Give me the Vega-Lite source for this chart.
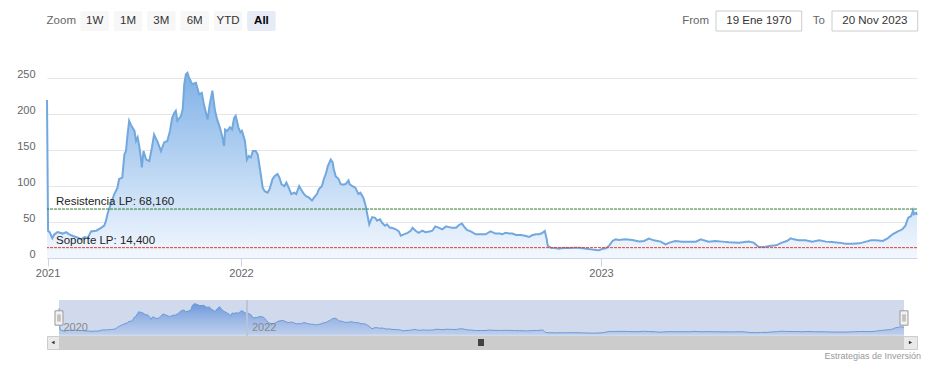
{
  "$schema": "https://vega.github.io/schema/vega-lite/v6.json",
  "background": "white",
  "padding": {"left": 16, "top": 10, "right": 10, "bottom": 6},
  "title": {"text": "Estrategias de Inversión", "orient": "bottom", "anchor": "end", "fontSize": 9, "color": "#999999", "fontWeight": "normal", "offset": 2},
  "datasets": {
    "series": [
      {"date": "2020-12-31", "close": 220},
      {"date": "2021-01-02", "close": 38},
      {"date": "2021-01-05", "close": 36},
      {"date": "2021-01-10", "close": 27.6},
      {"date": "2021-01-14", "close": 33},
      {"date": "2021-01-20", "close": 36},
      {"date": "2021-01-30", "close": 34},
      {"date": "2021-02-05", "close": 36},
      {"date": "2021-02-11", "close": 33},
      {"date": "2021-02-18", "close": 30.6},
      {"date": "2021-02-27", "close": 28.3},
      {"date": "2021-03-05", "close": 26},
      {"date": "2021-03-12", "close": 29},
      {"date": "2021-03-18", "close": 28},
      {"date": "2021-03-24", "close": 37},
      {"date": "2021-04-03", "close": 38},
      {"date": "2021-04-12", "close": 42},
      {"date": "2021-04-18", "close": 45},
      {"date": "2021-04-21", "close": 51},
      {"date": "2021-04-24", "close": 61},
      {"date": "2021-05-01", "close": 77},
      {"date": "2021-05-07", "close": 89},
      {"date": "2021-05-13", "close": 98},
      {"date": "2021-05-16", "close": 110},
      {"date": "2021-05-22", "close": 112},
      {"date": "2021-05-26", "close": 144},
      {"date": "2021-05-29", "close": 149},
      {"date": "2021-06-01", "close": 172},
      {"date": "2021-06-04", "close": 191},
      {"date": "2021-06-07", "close": 186},
      {"date": "2021-06-14", "close": 177},
      {"date": "2021-06-17", "close": 163},
      {"date": "2021-06-20", "close": 168},
      {"date": "2021-06-23", "close": 156},
      {"date": "2021-06-26", "close": 140},
      {"date": "2021-06-28", "close": 126},
      {"date": "2021-07-01", "close": 149},
      {"date": "2021-07-06", "close": 137},
      {"date": "2021-07-12", "close": 135},
      {"date": "2021-07-17", "close": 154},
      {"date": "2021-07-21", "close": 172},
      {"date": "2021-07-28", "close": 161},
      {"date": "2021-08-03", "close": 149},
      {"date": "2021-08-09", "close": 161},
      {"date": "2021-08-15", "close": 163},
      {"date": "2021-08-20", "close": 177},
      {"date": "2021-08-24", "close": 195},
      {"date": "2021-08-28", "close": 202},
      {"date": "2021-08-31", "close": 205},
      {"date": "2021-09-03", "close": 191},
      {"date": "2021-09-10", "close": 198},
      {"date": "2021-09-13", "close": 207},
      {"date": "2021-09-16", "close": 242},
      {"date": "2021-09-19", "close": 256},
      {"date": "2021-09-22", "close": 258},
      {"date": "2021-09-25", "close": 251},
      {"date": "2021-10-01", "close": 242},
      {"date": "2021-10-08", "close": 244},
      {"date": "2021-10-14", "close": 228},
      {"date": "2021-10-19", "close": 230},
      {"date": "2021-10-23", "close": 214},
      {"date": "2021-10-30", "close": 193},
      {"date": "2021-11-03", "close": 214},
      {"date": "2021-11-08", "close": 233},
      {"date": "2021-11-13", "close": 205},
      {"date": "2021-11-17", "close": 193},
      {"date": "2021-11-22", "close": 182},
      {"date": "2021-11-27", "close": 168},
      {"date": "2021-11-30", "close": 156},
      {"date": "2021-12-02", "close": 179},
      {"date": "2021-12-06", "close": 177},
      {"date": "2021-12-11", "close": 182},
      {"date": "2021-12-15", "close": 179},
      {"date": "2021-12-19", "close": 195},
      {"date": "2021-12-22", "close": 198},
      {"date": "2021-12-27", "close": 182},
      {"date": "2021-12-31", "close": 175},
      {"date": "2022-01-02", "close": 177},
      {"date": "2022-01-05", "close": 163},
      {"date": "2022-01-07", "close": 137},
      {"date": "2022-01-09", "close": 142},
      {"date": "2022-01-11", "close": 140},
      {"date": "2022-01-13", "close": 149},
      {"date": "2022-01-16", "close": 149},
      {"date": "2022-01-18", "close": 144},
      {"date": "2022-01-19", "close": 135},
      {"date": "2022-01-21", "close": 117},
      {"date": "2022-01-23", "close": 98},
      {"date": "2022-01-25", "close": 93},
      {"date": "2022-01-28", "close": 91},
      {"date": "2022-01-30", "close": 96},
      {"date": "2022-02-02", "close": 110},
      {"date": "2022-02-04", "close": 114},
      {"date": "2022-02-07", "close": 117},
      {"date": "2022-02-09", "close": 112},
      {"date": "2022-02-11", "close": 103},
      {"date": "2022-02-14", "close": 100},
      {"date": "2022-02-16", "close": 105},
      {"date": "2022-02-19", "close": 96},
      {"date": "2022-02-21", "close": 89},
      {"date": "2022-02-24", "close": 91},
      {"date": "2022-02-26", "close": 89},
      {"date": "2022-03-01", "close": 100},
      {"date": "2022-03-04", "close": 93},
      {"date": "2022-03-06", "close": 89},
      {"date": "2022-03-08", "close": 86},
      {"date": "2022-03-11", "close": 84},
      {"date": "2022-03-14", "close": 80},
      {"date": "2022-03-16", "close": 84},
      {"date": "2022-03-19", "close": 89},
      {"date": "2022-03-21", "close": 96},
      {"date": "2022-03-24", "close": 100},
      {"date": "2022-03-26", "close": 110},
      {"date": "2022-03-28", "close": 117},
      {"date": "2022-03-30", "close": 128},
      {"date": "2022-04-02", "close": 137},
      {"date": "2022-04-04", "close": 133},
      {"date": "2022-04-05", "close": 124},
      {"date": "2022-04-07", "close": 114},
      {"date": "2022-04-10", "close": 110},
      {"date": "2022-04-12", "close": 103},
      {"date": "2022-04-14", "close": 102},
      {"date": "2022-04-17", "close": 103},
      {"date": "2022-04-20", "close": 108},
      {"date": "2022-04-21", "close": 103},
      {"date": "2022-04-24", "close": 100},
      {"date": "2022-04-27", "close": 98},
      {"date": "2022-04-30", "close": 89},
      {"date": "2022-05-02", "close": 91},
      {"date": "2022-05-05", "close": 84},
      {"date": "2022-05-07", "close": 75},
      {"date": "2022-05-09", "close": 61},
      {"date": "2022-05-11", "close": 47},
      {"date": "2022-05-14", "close": 57},
      {"date": "2022-05-17", "close": 56},
      {"date": "2022-05-19", "close": 52},
      {"date": "2022-05-22", "close": 54},
      {"date": "2022-05-24", "close": 49},
      {"date": "2022-05-27", "close": 45},
      {"date": "2022-05-29", "close": 47},
      {"date": "2022-06-01", "close": 42},
      {"date": "2022-06-03", "close": 42},
      {"date": "2022-06-07", "close": 40},
      {"date": "2022-06-10", "close": 37},
      {"date": "2022-06-12", "close": 31},
      {"date": "2022-06-15", "close": 33},
      {"date": "2022-06-19", "close": 35},
      {"date": "2022-06-22", "close": 38},
      {"date": "2022-06-24", "close": 42},
      {"date": "2022-06-27", "close": 38},
      {"date": "2022-06-30", "close": 35},
      {"date": "2022-07-04", "close": 38},
      {"date": "2022-07-07", "close": 36},
      {"date": "2022-07-11", "close": 37},
      {"date": "2022-07-14", "close": 38},
      {"date": "2022-07-17", "close": 44},
      {"date": "2022-07-21", "close": 42},
      {"date": "2022-07-24", "close": 40},
      {"date": "2022-07-28", "close": 44},
      {"date": "2022-07-31", "close": 43},
      {"date": "2022-08-03", "close": 42},
      {"date": "2022-08-07", "close": 42},
      {"date": "2022-08-10", "close": 46},
      {"date": "2022-08-13", "close": 48},
      {"date": "2022-08-15", "close": 44},
      {"date": "2022-08-18", "close": 39},
      {"date": "2022-08-22", "close": 37},
      {"date": "2022-08-27", "close": 33},
      {"date": "2022-09-01", "close": 33},
      {"date": "2022-09-06", "close": 33},
      {"date": "2022-09-11", "close": 37},
      {"date": "2022-09-16", "close": 34},
      {"date": "2022-09-20", "close": 34},
      {"date": "2022-09-23", "close": 33},
      {"date": "2022-09-26", "close": 35},
      {"date": "2022-09-30", "close": 34},
      {"date": "2022-10-03", "close": 34},
      {"date": "2022-10-07", "close": 32},
      {"date": "2022-10-12", "close": 32},
      {"date": "2022-10-17", "close": 30.6},
      {"date": "2022-10-20", "close": 29.2},
      {"date": "2022-10-23", "close": 31.6},
      {"date": "2022-10-27", "close": 33},
      {"date": "2022-10-30", "close": 33},
      {"date": "2022-11-02", "close": 34.4},
      {"date": "2022-11-05", "close": 37.6},
      {"date": "2022-11-07", "close": 26},
      {"date": "2022-11-08", "close": 17},
      {"date": "2022-11-11", "close": 14.4},
      {"date": "2022-11-16", "close": 14},
      {"date": "2022-11-19", "close": 13},
      {"date": "2022-11-25", "close": 14.4},
      {"date": "2022-11-30", "close": 14},
      {"date": "2022-12-05", "close": 14.4},
      {"date": "2022-12-10", "close": 14.4},
      {"date": "2022-12-17", "close": 13},
      {"date": "2022-12-22", "close": 12},
      {"date": "2022-12-27", "close": 11},
      {"date": "2022-12-30", "close": 10.7},
      {"date": "2023-01-02", "close": 12.5},
      {"date": "2023-01-06", "close": 13.5},
      {"date": "2023-01-09", "close": 16.7},
      {"date": "2023-01-13", "close": 24},
      {"date": "2023-01-16", "close": 26},
      {"date": "2023-01-19", "close": 25},
      {"date": "2023-01-26", "close": 26},
      {"date": "2023-02-02", "close": 25},
      {"date": "2023-02-09", "close": 23},
      {"date": "2023-02-14", "close": 23.7},
      {"date": "2023-02-19", "close": 27},
      {"date": "2023-02-24", "close": 24.6},
      {"date": "2023-03-03", "close": 22.8},
      {"date": "2023-03-08", "close": 19},
      {"date": "2023-03-12", "close": 21.4},
      {"date": "2023-03-18", "close": 23.7},
      {"date": "2023-03-25", "close": 22.8},
      {"date": "2023-04-01", "close": 22.8},
      {"date": "2023-04-08", "close": 22.8},
      {"date": "2023-04-13", "close": 26},
      {"date": "2023-04-16", "close": 24.6},
      {"date": "2023-04-21", "close": 22.8},
      {"date": "2023-04-28", "close": 23.7},
      {"date": "2023-05-05", "close": 22.8},
      {"date": "2023-05-12", "close": 22},
      {"date": "2023-05-22", "close": 21.4},
      {"date": "2023-06-01", "close": 22.8},
      {"date": "2023-06-06", "close": 21.4},
      {"date": "2023-06-11", "close": 15.8},
      {"date": "2023-06-17", "close": 15.3},
      {"date": "2023-06-22", "close": 16.7},
      {"date": "2023-06-29", "close": 17.6},
      {"date": "2023-07-05", "close": 21.4},
      {"date": "2023-07-10", "close": 23.7},
      {"date": "2023-07-14", "close": 27.4},
      {"date": "2023-07-17", "close": 26},
      {"date": "2023-07-22", "close": 24.6},
      {"date": "2023-07-29", "close": 24.6},
      {"date": "2023-08-05", "close": 22.8},
      {"date": "2023-08-12", "close": 24.6},
      {"date": "2023-08-19", "close": 22.8},
      {"date": "2023-08-25", "close": 22.3},
      {"date": "2023-09-01", "close": 21.4},
      {"date": "2023-09-08", "close": 20},
      {"date": "2023-09-15", "close": 20},
      {"date": "2023-09-22", "close": 20.4},
      {"date": "2023-09-29", "close": 22.8},
      {"date": "2023-10-04", "close": 24.6},
      {"date": "2023-10-09", "close": 24.6},
      {"date": "2023-10-16", "close": 23.7},
      {"date": "2023-10-21", "close": 27.4},
      {"date": "2023-10-26", "close": 33},
      {"date": "2023-10-31", "close": 36.7},
      {"date": "2023-11-05", "close": 40},
      {"date": "2023-11-08", "close": 44.6},
      {"date": "2023-11-11", "close": 56},
      {"date": "2023-11-14", "close": 58.5},
      {"date": "2023-11-16", "close": 66.4},
      {"date": "2023-11-17", "close": 61},
      {"date": "2023-11-19", "close": 63},
      {"date": "2023-11-20", "close": 60}
    ]
  },
  "spacing": 0,
  "bounds": "flush",
  "vconcat": [
    {
      "width": 870,
      "height": 47,
      "resolve": {"scale": {"x": "independent"}},
      "layer": [
        {
          "data": {"values": [{"b": "1W"}, {"b": "1M"}, {"b": "3M"}, {"b": "6M"}, {"b": "YTD"}, {"b": "All", "selected": true}]},
          "mark": {"type": "rect", "cornerRadius": 2},
          "encoding": {
            "x": {"field": "b", "type": "nominal", "scale": {"type": "band", "domain": ["Zoom", "1W", "1M", "3M", "6M", "YTD", "All"], "range": [0, 228.7], "paddingInner": 0.144, "paddingOuter": 0}, "axis": null},
            "y": {"datum": "selector", "type": "nominal", "scale": {"type": "band", "range": [0, 20], "paddingInner": 0, "paddingOuter": 0}, "axis": null},
            "color": {"condition": {"test": "datum.selected", "value": "#e6ebf5"}, "value": "#f7f7f7"}
          }
        },
        {
          "data": {"values": [{"b": "Zoom"}]},
          "mark": {"type": "text", "fontSize": 11.5, "color": "#666666"},
          "encoding": {
            "x": {"field": "b", "type": "nominal", "scale": {"type": "band", "domain": ["Zoom", "1W", "1M", "3M", "6M", "YTD", "All"], "range": [0, 228.7], "paddingInner": 0.144, "paddingOuter": 0}, "axis": null},
            "y": {"datum": "selector", "type": "nominal", "scale": {"type": "band", "range": [0, 20], "paddingInner": 0, "paddingOuter": 0}, "axis": null},
            "text": {"field": "b"}
          }
        },
        {
          "data": {"values": [{"b": "1W"}, {"b": "1M"}, {"b": "3M"}, {"b": "6M"}, {"b": "YTD"}]},
          "mark": {"type": "text", "fontSize": 11.5, "color": "#333333"},
          "encoding": {
            "x": {"field": "b", "type": "nominal", "scale": {"type": "band", "domain": ["Zoom", "1W", "1M", "3M", "6M", "YTD", "All"], "range": [0, 228.7], "paddingInner": 0.144, "paddingOuter": 0}, "axis": null},
            "y": {"datum": "selector", "type": "nominal", "scale": {"type": "band", "range": [0, 20], "paddingInner": 0, "paddingOuter": 0}, "axis": null},
            "text": {"field": "b"}
          }
        },
        {
          "data": {"values": [{"b": "All"}]},
          "mark": {"type": "text", "fontSize": 11.5, "color": "#000000", "fontWeight": "bold"},
          "encoding": {
            "x": {"field": "b", "type": "nominal", "scale": {"type": "band", "domain": ["Zoom", "1W", "1M", "3M", "6M", "YTD", "All"], "range": [0, 228.7], "paddingInner": 0.144, "paddingOuter": 0}, "axis": null},
            "y": {"datum": "selector", "type": "nominal", "scale": {"type": "band", "range": [0, 20], "paddingInner": 0, "paddingOuter": 0}, "axis": null},
            "text": {"field": "b"}
          }
        },
        {
          "data": {"values": [{"label": "From", "value": "19 Ene 1970"}, {"label": "To", "value": "20 Nov 2023"}]},
          "mark": {"type": "rect", "fill": "#ffffff", "stroke": "#cccccc", "strokeWidth": 1},
          "encoding": {
            "x": {"field": "value", "type": "nominal", "scale": {"type": "band", "domain": ["19 Ene 1970", "20 Nov 2023"], "range": [669, 870.7], "paddingInner": 0.261, "paddingOuter": 0}, "axis": null},
            "y": {"datum": "selector", "type": "nominal", "scale": {"type": "band", "range": [0, 20], "paddingInner": 0, "paddingOuter": 0}, "axis": null}
          }
        },
        {
          "data": {"values": [{"label": "From", "value": "19 Ene 1970"}, {"label": "To", "value": "20 Nov 2023"}]},
          "mark": {"type": "text", "fontSize": 11.5, "color": "#333333"},
          "encoding": {
            "x": {"field": "value", "type": "nominal", "scale": {"type": "band", "domain": ["19 Ene 1970", "20 Nov 2023"], "range": [669, 870.7], "paddingInner": 0.261, "paddingOuter": 0}, "axis": null},
            "y": {"datum": "selector", "type": "nominal", "scale": {"type": "band", "range": [0, 20], "paddingInner": 0, "paddingOuter": 0}, "axis": null},
            "text": {"field": "value"}
          }
        },
        {
          "data": {"values": [{"label": "From", "value": "19 Ene 1970"}, {"label": "To", "value": "20 Nov 2023"}]},
          "mark": {"type": "text", "fontSize": 11.5, "color": "#666666", "align": "right", "dx": -7},
          "encoding": {
            "x": {"field": "value", "type": "nominal", "bandPosition": 0, "scale": {"type": "band", "domain": ["19 Ene 1970", "20 Nov 2023"], "range": [669, 870.7], "paddingInner": 0.261, "paddingOuter": 0}, "axis": null},
            "y": {"datum": "selector", "type": "nominal", "scale": {"type": "band", "range": [0, 20], "paddingInner": 0, "paddingOuter": 0}, "axis": null},
            "text": {"field": "label"}
          }
        }
      ]
    },
    {
      "width": 870,
      "height": 200,
      "layer": [
        {
          "data": {"name": "series", "format": {"parse": {"date": "date"}}},
          "mark": {
            "type": "area",
            "interpolate": "linear",
            "opacity": 1,
            "color": {"x1": 0, "y1": 0, "x2": 0, "y2": 1, "gradient": "linear", "stops": [{"offset": 0, "color": "#7fb1e7"}, {"offset": 1, "color": "#f3f8fe"}]},
            "line": {"color": "#72a8de", "strokeWidth": 2}
          },
          "encoding": {
            "x": {
              "field": "date", "type": "quantitative",
              "scale": {"type": "linear", "zero": false, "nice": false, "domain": [1609372800000, 1640995200000, 1672531200000, 1700438400000], "range": [0, 194, 554, 870]},
              "axis": {"values": [1609459200000, 1640995200000, 1672531200000], "labelExpr": "utcFormat(datum.value, '%Y')", "grid": false, "domainColor": "#ccd6eb", "domainWidth": 1, "tickColor": "#ccd6eb", "tickSize": 8, "labelColor": "#666666", "labelFontSize": 11, "labelPadding": 1, "labelFlush": false, "labelOverlap": false, "title": null}
            },
            "y": {
              "field": "close", "type": "quantitative",
              "scale": {"domain": [0, 278.5], "nice": false, "zero": false},
              "axis": {"values": [0, 50, 100, 150, 200, 250], "grid": true, "gridColor": "#e6e6e6", "gridWidth": 1, "domain": false, "ticks": false, "labelColor": "#666666", "labelFontSize": 11, "labelPadding": 12, "labelBaseline": "alphabetic", "labelOffset": -1, "labelOverlap": false, "title": null}
            }
          }
        },
        {
          "data": {"values": [{"label": "Resistencia LP: 68,160", "level": 68.16, "kind": "res"}, {"label": "Soporte LP: 14,400", "level": 14.4, "kind": "sup"}]},
          "mark": {"type": "rule", "strokeDash": [3, 1], "strokeWidth": 1},
          "encoding": {
            "y": {"field": "level", "type": "quantitative", "scale": {"domain": [0, 278.5], "nice": false, "zero": false},
              "axis": {"values": [0, 50, 100, 150, 200, 250], "grid": true, "gridColor": "#e6e6e6", "gridWidth": 1, "domain": false, "ticks": false, "labelColor": "#666666", "labelFontSize": 11, "labelPadding": 12, "labelBaseline": "alphabetic", "labelOffset": -1, "labelOverlap": false, "title": null}},
            "color": {"field": "kind", "type": "nominal", "scale": {"domain": ["res", "sup"], "range": ["#2e7d32", "#e53935"]}, "legend": null}
          }
        },
        {
          "data": {"values": [{"label": "Resistencia LP: 68,160", "level": 68.16, "kind": "res"}, {"label": "Soporte LP: 14,400", "level": 14.4, "kind": "sup"}]},
          "mark": {"type": "text", "align": "left", "baseline": "alphabetic", "dx": 9, "dy": -4, "fontSize": 11.5, "color": "#222222"},
          "encoding": {
            "x": {"datum": 1609372800000, "type": "quantitative", "scale": {"type": "linear", "zero": false, "nice": false, "domain": [1609372800000, 1640995200000, 1672531200000, 1700438400000], "range": [0, 194, 554, 870]},
              "axis": {"values": [1609459200000, 1640995200000, 1672531200000], "labelExpr": "utcFormat(datum.value, '%Y')", "grid": false, "domainColor": "#ccd6eb", "domainWidth": 1, "tickColor": "#ccd6eb", "tickSize": 8, "labelColor": "#666666", "labelFontSize": 11, "labelPadding": 1, "labelFlush": false, "labelOverlap": false, "title": null}},
            "y": {"field": "level", "type": "quantitative", "scale": {"domain": [0, 278.5], "nice": false, "zero": false},
              "axis": {"values": [0, 50, 100, 150, 200, 250], "grid": true, "gridColor": "#e6e6e6", "gridWidth": 1, "domain": false, "ticks": false, "labelColor": "#666666", "labelFontSize": 11, "labelPadding": 12, "labelBaseline": "alphabetic", "labelOffset": -1, "labelOverlap": false, "title": null}},
            "text": {"field": "label"}
          }
        }
      ]
    },
    {
      "width": 870,
      "height": 78,
      "data": {"name": "series", "format": {"parse": {"date": "date"}}},
      "layer": [
        {
          "mark": {"type": "rect", "fill": "#d1daed"},
          "encoding": {
            "x": {"aggregate": "min", "field": "date", "type": "quantitative",
              "scale": {"type": "linear", "zero": false, "nice": false, "domain": [1609372800000, 1640995200000, 1672531200000, 1700438400000], "range": [12, 200.4, 550.1, 857]},
              "axis": {"values": [1609372800000, 1640995200000], "labelExpr": "utcFormat(datum.value, '%Y')", "grid": false, "domain": false, "ticks": false, "labelAlign": "left", "labelBaseline": "alphabetic", "labelPadding": -6, "labelOffset": 4, "labelColor": "#888888", "labelFontSize": 11, "labelFlush": false, "labelOverlap": false, "title": null, "zindex": 1}
            },
            "x2": {"aggregate": "max", "field": "date"},
            "y": {"datum": 289, "type": "quantitative", "scale": {"domain": [-13, 289], "range": [78, 42], "nice": false, "zero": false}, "axis": null},
            "y2": {"datum": -13}
          }
        },
        {
          "mark": {
            "type": "area",
            "opacity": 1,
            "color": {"x1": 0, "y1": 0, "x2": 0, "y2": 1, "gradient": "linear", "stops": [{"offset": 0, "color": "rgba(90,140,215,0.85)"}, {"offset": 1, "color": "rgba(124,165,230,0.25)"}]},
            "line": {"color": "#6b9bd6", "strokeWidth": 1}
          },
          "encoding": {
            "x": {"field": "date", "type": "quantitative", "scale": {"type": "linear", "zero": false, "nice": false, "domain": [1609372800000, 1640995200000, 1672531200000, 1700438400000], "range": [12, 200.4, 550.1, 857]}},
            "y": {"field": "close", "type": "quantitative", "scale": {"domain": [-13, 289], "range": [78, 42], "nice": false, "zero": false}, "axis": null}
          }
        },
        {
          "mark": {"type": "rule", "color": "#bcc3d3", "strokeWidth": 1},
          "encoding": {
            "x": {"datum": 1640995200000, "type": "quantitative", "scale": {"type": "linear", "zero": false, "nice": false, "domain": [1609372800000, 1640995200000, 1672531200000, 1700438400000], "range": [12, 200.4, 550.1, 857]}},
            "y": {"datum": 289, "type": "quantitative", "scale": {"domain": [-13, 289], "range": [78, 42], "nice": false, "zero": false}, "axis": null},
            "y2": {"datum": -13}
          }
        },
        {
          "mark": {"type": "point", "shape": "M-0.5,-0.9H0.5V0.9H-0.5Z M-0.12,-0.45V0.45 M0.12,-0.45V0.45", "filled": true, "fill": "#f2f2f2", "stroke": "#999999", "strokeWidth": 1, "size": 256, "opacity": 1},
          "encoding": {
            "x": {"aggregate": "min", "field": "date", "type": "quantitative", "scale": {"type": "linear", "zero": false, "nice": false, "domain": [1609372800000, 1640995200000, 1672531200000, 1700438400000], "range": [12, 200.4, 550.1, 857]}},
            "y": {"datum": 138, "type": "quantitative", "scale": {"domain": [-13, 289], "range": [78, 42], "nice": false, "zero": false}, "axis": null}
          }
        },
        {
          "mark": {"type": "point", "shape": "M-0.5,-0.9H0.5V0.9H-0.5Z M-0.12,-0.45V0.45 M0.12,-0.45V0.45", "filled": true, "fill": "#f2f2f2", "stroke": "#999999", "strokeWidth": 1, "size": 256, "opacity": 1},
          "encoding": {
            "x": {"aggregate": "max", "field": "date", "type": "quantitative", "scale": {"type": "linear", "zero": false, "nice": false, "domain": [1609372800000, 1640995200000, 1672531200000, 1700438400000], "range": [12, 200.4, 550.1, 857]}},
            "y": {"datum": 138, "type": "quantitative", "scale": {"domain": [-13, 289], "range": [78, 42], "nice": false, "zero": false}, "axis": null}
          }
        }
      ]
    },
    {
      "width": 870,
      "height": 13,
      "view": {"fill": "#e9e9e9", "stroke": "#cccccc"},
      "data": {"name": "series", "format": {"parse": {"date": "date"}}},
      "layer": [
        {
          "mark": {"type": "rect", "fill": "#cccccc"},
          "encoding": {
            "x": {"aggregate": "min", "field": "date", "type": "quantitative",
              "scale": {"type": "linear", "zero": false, "nice": false, "domain": [1609372800000, 1640995200000, 1672531200000, 1700438400000], "range": [12, 200.4, 550.1, 857]},
              "axis": null},
            "x2": {"aggregate": "max", "field": "date"}
          }
        },
        {
          "mark": {"type": "point", "shape": "triangle-left", "filled": true, "color": "#333333", "size": 14, "opacity": 1, "xOffset": -6},
          "encoding": {"x": {"aggregate": "min", "field": "date", "type": "quantitative", "scale": {"type": "linear", "zero": false, "nice": false, "domain": [1609372800000, 1640995200000, 1672531200000, 1700438400000], "range": [12, 200.4, 550.1, 857]}, "axis": null}}
        },
        {
          "mark": {"type": "point", "shape": "triangle-right", "filled": true, "color": "#333333", "size": 14, "opacity": 1, "xOffset": 6.5},
          "encoding": {"x": {"aggregate": "max", "field": "date", "type": "quantitative", "scale": {"type": "linear", "zero": false, "nice": false, "domain": [1609372800000, 1640995200000, 1672531200000, 1700438400000], "range": [12, 200.4, 550.1, 857]}, "axis": null}}
        },
        {
          "mark": {"type": "point", "shape": "M-0.6,-0.8V0.8M0,-0.8V0.8M0.6,-0.8V0.8", "filled": false, "fill": null, "stroke": "#444444", "strokeWidth": 0.8, "size": 49, "opacity": 1},
          "encoding": {"x": {"datum": 1662076800000, "type": "quantitative", "scale": {"type": "linear", "zero": false, "nice": false, "domain": [1609372800000, 1640995200000, 1672531200000, 1700438400000], "range": [12, 200.4, 550.1, 857]}, "axis": null}}
        }
      ]
    }
  ],
  "config": {
    "font": "Liberation Sans",
    "view": {"stroke": null},
    "axis": {"labelFont": "Liberation Sans"}
  }
}
